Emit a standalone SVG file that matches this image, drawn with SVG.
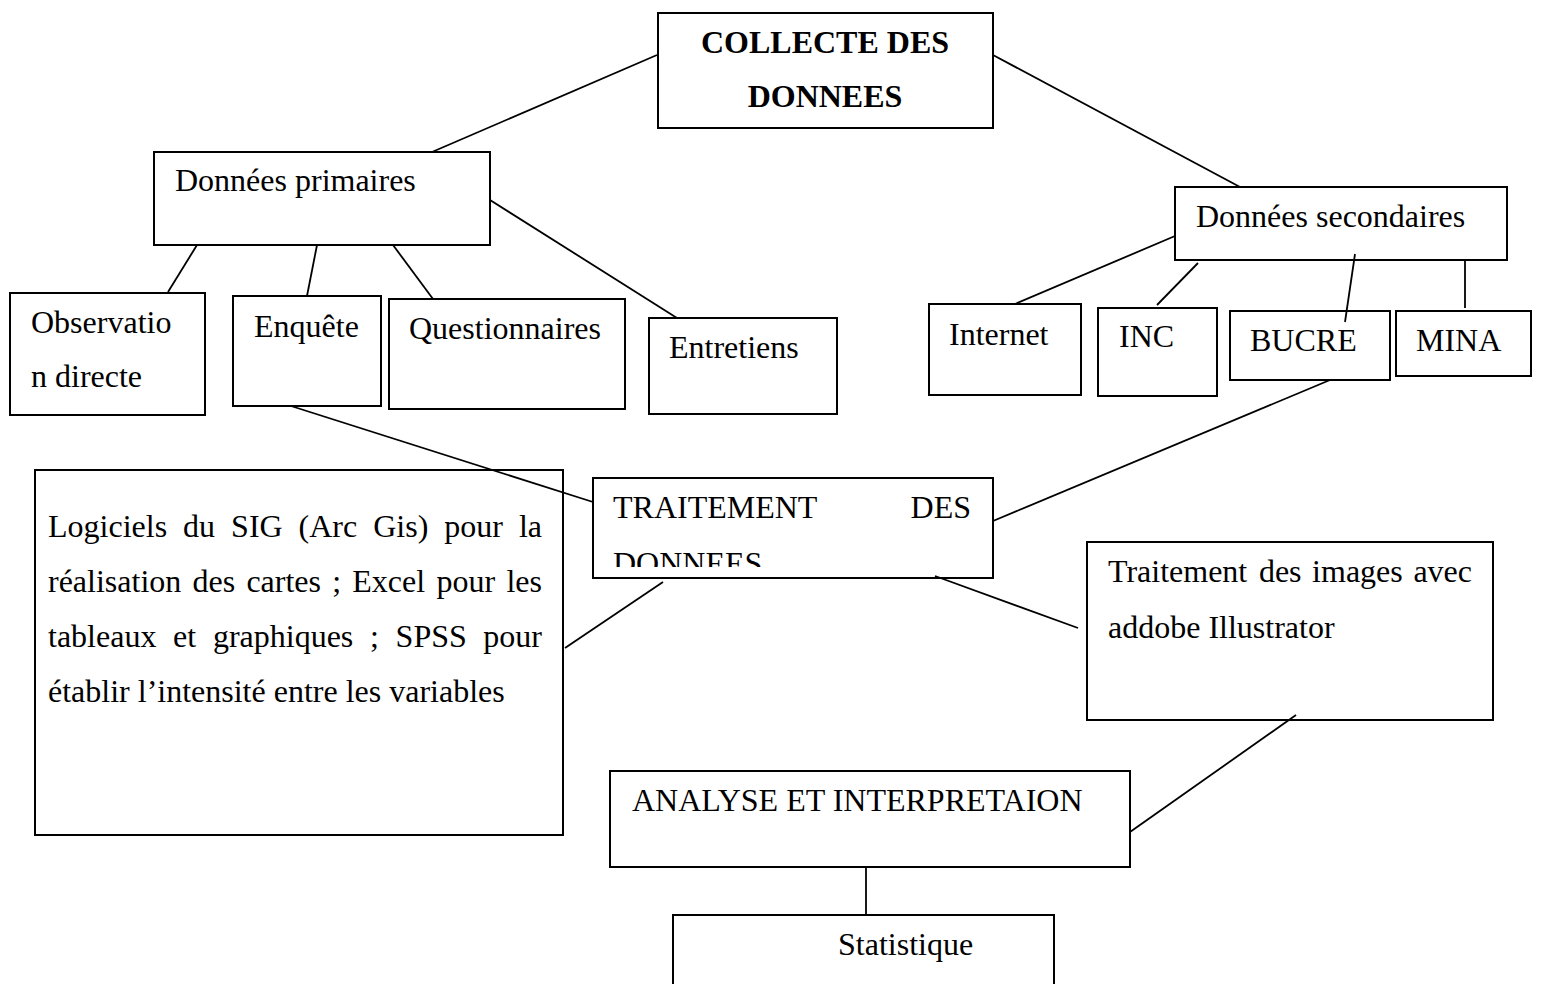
<svg xmlns="http://www.w3.org/2000/svg" width="1541" height="984" viewBox="0 0 1541 984">
<style>
.box{fill:#fff;stroke:#000;stroke-width:2}
.ln{stroke:#000;stroke-width:1.8;fill:none}
text{font-family:"Liberation Serif","Times New Roman",serif;font-size:32px;fill:#000}
.b{font-weight:bold}
</style>
<defs>
<clipPath id="clipT"><rect x="594" y="479" width="398" height="88"/></clipPath>
</defs>
<rect width="1541" height="984" fill="#fff"/>
<g id="collecte">
<rect class="box" x="658" y="13" width="335" height="115"/>
<text class="b" x="825" y="53" text-anchor="middle">COLLECTE DES</text>
<text class="b" x="825" y="107" text-anchor="middle">DONNEES</text>
</g>
<g id="primaires">
<rect class="box" x="154" y="152" width="336" height="93"/>
<text x="175" y="191">Données primaires</text>
</g>
<g id="observation">
<rect class="box" x="10" y="293" width="195" height="122"/>
<text x="31" y="333">Observatio</text>
<text x="31" y="387">n directe</text>
</g>
<g id="enquete">
<rect class="box" x="233" y="296" width="148" height="110"/>
<text x="254" y="337">Enquête</text>
</g>
<g id="questionnaires">
<rect class="box" x="389" y="299" width="236" height="110"/>
<text x="409" y="339">Questionnaires</text>
</g>
<g id="entretiens">
<rect class="box" x="649" y="318" width="188" height="96"/>
<text x="669" y="358">Entretiens</text>
</g>
<g id="secondaires">
<rect class="box" x="1175" y="187" width="332" height="73"/>
<text x="1196" y="227">Données secondaires</text>
</g>
<g id="internet">
<rect class="box" x="929" y="304" width="152" height="91"/>
<text x="949" y="345">Internet</text>
</g>
<g id="inc">
<rect class="box" x="1098" y="308" width="119" height="88"/>
<text x="1119" y="347">INC</text>
</g>
<g id="bucre">
<rect class="box" x="1230" y="311" width="160" height="69"/>
<text x="1250" y="351">BUCRE</text>
</g>
<g id="mina">
<rect class="box" x="1396" y="311" width="135" height="65"/>
<text x="1416" y="351">MINA</text>
</g>
<g id="traitement">
<rect class="box" x="593" y="478" width="400" height="100"/>
<text x="613" y="518">TRAITEMENT</text>
<text x="971" y="518" text-anchor="end">DES</text>
<text x="613" y="574" clip-path="url(#clipT)">DONNEES</text>
</g>
<g id="logiciels">
<rect class="box" x="35" y="470" width="528" height="365"/>
<text y="537"><tspan x="48">Logiciels</tspan><tspan x="183.1">du</tspan><tspan x="231.1">SIG</tspan><tspan x="298.6">(Arc</tspan><tspan x="373.2">Gis)</tspan><tspan x="444.3">pour</tspan><tspan x="542" text-anchor="end">la</tspan></text>
<text y="592"><tspan x="48">réalisation</tspan><tspan x="192.5">des</tspan><tspan x="246.4">cartes</tspan><tspan x="332.2">;</tspan><tspan x="352.3">Excel</tspan><tspan x="436.4">pour</tspan><tspan x="542" text-anchor="end">les</tspan></text>
<text y="647"><tspan x="48">tableaux</tspan><tspan x="173.1">et</tspan><tspan x="212.9">graphiques</tspan><tspan x="370">;</tspan><tspan x="395.6">SPSS</tspan><tspan x="542" text-anchor="end">pour</tspan></text>
<text x="48" y="702">établir l’intensité entre les variables</text>
</g>
<g id="images">
<rect class="box" x="1087" y="542" width="406" height="178"/>
<text y="582"><tspan x="1108">Traitement</tspan><tspan x="1258.9">des</tspan><tspan x="1312.1">images</tspan><tspan x="1472" text-anchor="end">avec</tspan></text>
<text x="1108" y="638">addobe Illustrator</text>
</g>
<g id="analyse">
<rect class="box" x="610" y="771" width="520" height="96"/>
<text x="632" y="811">ANALYSE ET INTERPRETAION</text>
</g>
<g id="statistique">
<rect class="box" x="673" y="915" width="381" height="100"/>
<text x="838" y="955">Statistique</text>
</g>
<g id="connectors">
<line class="ln" x1="657" y1="55" x2="432" y2="152"/>
<line class="ln" x1="993" y1="55" x2="1240" y2="187"/>
<line class="ln" x1="197" y1="245" x2="168" y2="292"/>
<line class="ln" x1="317" y1="245" x2="307" y2="296"/>
<line class="ln" x1="393" y1="245" x2="433" y2="299"/>
<line class="ln" x1="490" y1="200" x2="677" y2="318"/>
<line class="ln" x1="1175" y1="236" x2="1015" y2="304"/>
<line class="ln" x1="1198" y1="263" x2="1157" y2="305"/>
<line class="ln" x1="1355" y1="254" x2="1345" y2="322"/>
<line class="ln" x1="1465" y1="260" x2="1465" y2="308"/>
<line class="ln" x1="291" y1="406" x2="593" y2="502"/>
<line class="ln" x1="1330" y1="380" x2="993" y2="521"/>
<line class="ln" x1="663" y1="582" x2="565" y2="648"/>
<line class="ln" x1="935" y1="576" x2="1078" y2="628"/>
<line class="ln" x1="1296" y1="715" x2="1130" y2="832"/>
<line class="ln" x1="866" y1="867" x2="866" y2="915"/>
</g>
</svg>
